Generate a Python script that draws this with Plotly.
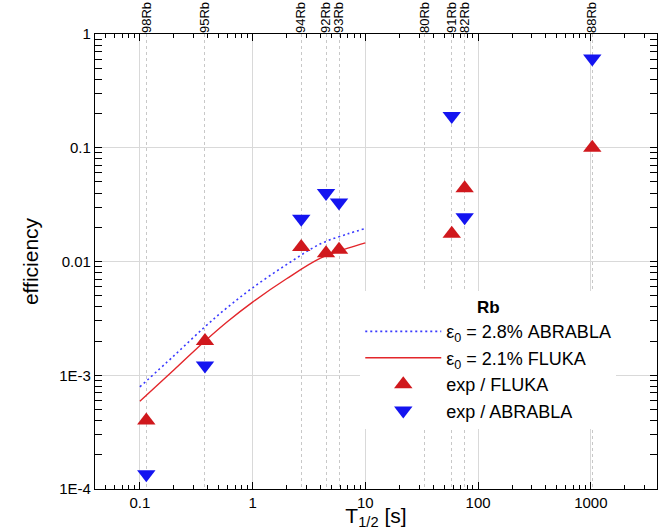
import plotly.graph_objects as go

# Nuclides and their half-lives (top axis)
nuclides = ["98Rb", "95Rb", "94Rb", "92Rb", "93Rb", "80Rb", "91Rb", "82Rb", "88Rb"]
half_lives = [0.114, 0.378, 2.70, 4.48, 5.84, 33.4, 58.4, 76.0, 1030]

# Experimental points
exp_t = [0.114, 0.378, 2.70, 4.48, 5.84, 58.4, 76.0, 1030]
exp_fluka = [4.0e-4, 2.0e-3, 0.0134, 0.0118, 0.0127, 0.0175, 0.044, 0.10]
exp_abrabla = [1.35e-4, 1.22e-3, 0.0238, 0.040, 0.033, 0.19, 0.0245, 0.61]

# Model curves
curve_t = [0.1, 0.2, 0.378, 0.6, 1, 2, 4, 7, 10]
curve_fluka = [5.9e-4, 1.11e-3, 2.0e-3, 2.97e-3, 4.4e-3, 7.05e-3, 0.0107, 0.0131, 0.0146]
curve_abrabla = [7.9e-4, 1.48e-3, 2.67e-3, 3.96e-3, 5.87e-3, 9.4e-3, 0.0143, 0.0175, 0.0195]

# Axis ticks
x_tickvals = [0.1, 1, 10, 100, 1000]
x_ticktext = ["0.1", "1", "10", "100", "1000"]
y_tickvals = [1e-4, 1e-3, 0.01, 0.1, 1]
y_ticktext = ["1E-4", "1E-3", "0.01", "0.1", "1"]

FONT = "Arial, Liberation Sans, sans-serif"
RED_LINE = "#e3262b"
RED_MK = "#d0181d"
BLUE_LINE = "#3a3aff"
BLUE_MK = "#1414f0"

fig = go.Figure()

fig.add_trace(go.Scatter(
    x=curve_t, y=curve_abrabla, mode="lines", line_shape="spline",
    line=dict(color=BLUE_LINE, width=1.6, dash="2px,3px"),
    name="ε<sub>0</sub> = 2.8% ABRABLA"))
fig.add_trace(go.Scatter(
    x=curve_t, y=curve_fluka, mode="lines", line_shape="spline",
    line=dict(color=RED_LINE, width=1.4),
    name="ε<sub>0</sub> = 2.1% FLUKA"))
fig.add_trace(go.Scatter(
    x=exp_t, y=exp_fluka, mode="markers",
    marker=dict(symbol="triangle-up", size=16, color=RED_MK, line=dict(width=0)),
    name="exp / FLUKA"))
fig.add_trace(go.Scatter(
    x=exp_t, y=exp_abrabla, mode="markers",
    marker=dict(symbol="triangle-down", size=16, color=BLUE_MK, line=dict(width=0)),
    name="exp / ABRABLA"))
# invisible trace to anchor the top (nuclide) axis
fig.add_trace(go.Scatter(
    x=half_lives, y=[None] * len(half_lives), xaxis="x2", yaxis="y",
    mode="markers", showlegend=False, hoverinfo="skip"))

xrange = [-1.398, 3.587]

fig.update_layout(
    width=670, height=530,
    margin=dict(l=95, r=13, t=34, b=41),
    paper_bgcolor="white", plot_bgcolor="white",
    font=dict(family=FONT, color="black", size=15),
    showlegend=True,
    legend=dict(
        x=0.472, y=0.435, xanchor="left", yanchor="top",
        bgcolor="white", borderwidth=0,
        font=dict(family=FONT, size=18, color="black"),
        title=dict(text="<b>Rb</b>", side="top center", font=dict(family=FONT, size=17)),
        itemwidth=76, tracegroupgap=0,
    ),
    xaxis=dict(
        type="log", range=xrange,
        tickmode="array", tickvals=x_tickvals, ticktext=x_ticktext,
        ticks="inside", ticklen=7, tickcolor="black", tickwidth=1,
        minor=dict(dtick="D1", ticks="inside", ticklen=4, tickcolor="black", showgrid=False),
        showline=True, linecolor="black", linewidth=1.2, mirror="allticks",
        showgrid=True, gridcolor="#d9d9d9", gridwidth=1,
        zeroline=False,
        tickfont=dict(size=15),
        title=dict(text="T<sub>1/2</sub> [s]", font=dict(size=21), standoff=2),
        automargin=False,
    ),
    xaxis2=dict(
        type="log", range=xrange, overlaying="x", side="top",
        tickmode="array", tickvals=half_lives, ticktext=nuclides,
        tickangle=-90, ticks="", showline=False,
        showgrid=True, gridcolor="#c8c8c8", gridwidth=1, griddash="dot",
        tickfont=dict(size=13), zeroline=False, automargin=False,
    ),
    yaxis=dict(
        type="log", range=[-4, 0],
        tickmode="array", tickvals=y_tickvals, ticktext=y_ticktext,
        ticks="inside", ticklen=7, tickcolor="black", tickwidth=1,
        minor=dict(dtick="D1", ticks="inside", ticklen=4, tickcolor="black", showgrid=False),
        showline=True, linecolor="black", linewidth=1.2, mirror="allticks",
        showgrid=True, gridcolor="#d9d9d9", gridwidth=1,
        zeroline=False,
        tickfont=dict(size=15),
        title=dict(text="efficiency", font=dict(size=21), standoff=14),
        automargin=False,
    ),
)

fig.write_html("out.html", config={"displayModeBar": False},
               post_script="document.body.style.margin='0';")
